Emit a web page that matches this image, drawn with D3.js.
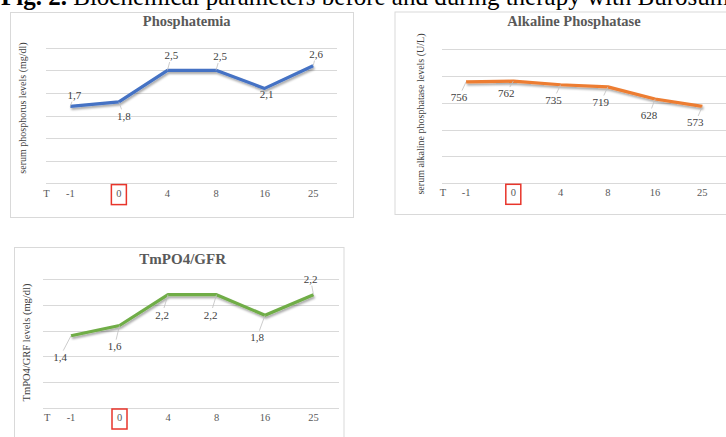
<!DOCTYPE html>
<html>
<head>
<meta charset="utf-8">
<script src="https://cdn.jsdelivr.net/npm/d3@7"></script>
<style>
  html, body { margin: 0; padding: 0; background: #fff; }
  svg { display: block; }
</style>
</head>
<body>
<svg id="chart" width="726" height="437"></svg>
<script>
// ---------- DATA ----------
const categories = ["-1", "0", "4", "8", "16", "25"];
const phosphatemiaValues = [1.7, 1.8, 2.5, 2.5, 2.1, 2.6];
const alkalineValues = [756, 762, 735, 719, 628, 573];
const tmpValues = [1.4, 1.6, 2.2, 2.2, 1.8, 2.2];
const phosphatemiaTicks = [0, 0.5, 1, 1.5, 2, 2.5, 3];
const alkalineTicks = [0, 200, 400, 600, 800, 1000];
const tmpTicks = [0, 0.5, 1, 1.5, 2, 2.5];
const highlightCategory = "0";
const headerBold = "Fig. 2.";
const headerText = " Biochemical parameters before and during therapy with Burosumab";

// ---------- LAYOUT / STYLE ----------
const FONT = "'Liberation Serif', 'Times New Roman', serif";
const panels = [
  {
    title: "Phosphatemia", yTitle: "serum phosphorus levels (mg/dl)",
    values: phosphatemiaValues, ticks: phosphatemiaTicks, domain: [0, 3],
    color: "#4472C4", fmt: v => d3.format(".1f")(v).replace(".", ","),
    box: [10.5, 12.5, 343, 205], titleX: 186.7, titleY: 26, titleSize: 14.5,
    xRange: [46, 337.5], yRange: [183.3, 47.7], gridX: [46, 337],
    yTitlePos: [22.7, 108], yTitleSize: 10,
    labelOff: [[4, -11.5], [5, 14], [4, -15], [4, -14], [2, 6], [3, -12]]
  },
  {
    title: "Alkaline Phosphatase", yTitle: "serum alkaline phosphatase levels (U/L)",
    values: alkalineValues, ticks: alkalineTicks, domain: [0, 1000],
    color: "#ED7D31", fmt: v => String(v),
    box: [395, 12, 340, 202.5], titleX: 574, titleY: 26, titleSize: 14.5,
    xRange: [442.4, 726], yRange: [183, 49.3], gridX: [442, 726],
    yTitlePos: [420, 114], yTitleSize: 10,
    labelOff: [[-7, 15], [-7, 12], [-7, 15], [-7, 15], [-6, 16], [-7, 16]]
  },
  {
    title: "TmPO4/GFR", yTitle: "TmPO4/GRF levels (mg/dl)",
    values: tmpValues, ticks: tmpTicks, domain: [0, 2.5],
    color: "#70AD47", fmt: v => d3.format(".1f")(v).replace(".", ","),
    box: [14.5, 247.5, 329.5, 200], titleX: 182.7, titleY: 264, titleSize: 15,
    xRange: [46.75, 337.75], yRange: [407.7, 279.3], gridX: [43, 339],
    yTitlePos: [26.7, 342.5], yTitleSize: 10.5,
    labelOff: [[-11, 21], [-5, 21], [-6, 20], [-6, 20], [-8, 22], [-3, -16]]
  }
];

const svg = d3.select("#chart");

const defs = svg.append("defs");
const f = defs.append("filter").attr("id", "shadow")
  .attr("x", "-10%").attr("y", "-30%").attr("width", "130%").attr("height", "180%");
f.append("feDropShadow").attr("dx", 1).attr("dy", 2).attr("stdDeviation", 1.2)
  .attr("flood-color", "#000").attr("flood-opacity", 0.35);

// Header (cut off at top, as in the reference)
const header = svg.append("text").attr("x", 1).attr("y", 4.5)
  .attr("font-family", FONT).attr("font-size", 25).attr("fill", "#000");
header.append("tspan").attr("font-weight", "bold").text(headerBold);
header.append("tspan").text(headerText);

panels.forEach(p => {
  const g = svg.append("g");
  const [bx, by, bw, bh] = p.box;
  g.append("rect").attr("x", bx).attr("y", by).attr("width", bw).attr("height", bh)
    .attr("fill", "#fff").attr("stroke", "#d9d9d9").attr("stroke-width", 1);

  const x = d3.scaleBand().domain(categories).range(p.xRange).paddingInner(0).paddingOuter(0);
  const y = d3.scaleLinear().domain(p.domain).range(p.yRange);
  const cx = c => x(c) + x.bandwidth() / 2;

  // gridlines
  g.append("g").selectAll("line").data(p.ticks).join("line")
    .attr("x1", p.gridX[0]).attr("x2", p.gridX[1])
    .attr("y1", d => Math.round(y(d)) + 0.5).attr("y2", d => Math.round(y(d)) + 0.5)
    .attr("stroke", "#d9d9d9").attr("stroke-width", 1);

  // x axis
  const axis = g.append("g").attr("transform", `translate(0,${y(0)})`)
    .call(d3.axisBottom(x).tickSize(0).tickPadding(6));
  axis.select(".domain").remove();
  axis.selectAll("text").attr("font-family", FONT).attr("font-size", 10.5).attr("fill", "#595959");

  // "T" label
  g.append("text").attr("x", p.xRange[0] + 0.5).attr("y", y(0) + 6).attr("dy", "0.71em")
    .attr("text-anchor", "middle").attr("font-family", FONT).attr("font-size", 10.5)
    .attr("fill", "#595959").text("T");

  // highlight box around "0"
  g.append("rect").attr("x", cx(highlightCategory) - 7.5).attr("y", y(0) + 1.3)
    .attr("width", 15).attr("height", 20)
    .attr("fill", "none").attr("stroke", "#e8352b").attr("stroke-width", 1.5);

  // title
  g.append("text").attr("x", p.titleX)
    .attr("y", p.titleY).attr("text-anchor", "middle")
    .attr("font-family", FONT).attr("font-weight", "bold").attr("font-size", p.titleSize)
    .attr("fill", "#595959").text(p.title);

  // y title
  g.append("text").attr("transform", `translate(${p.yTitlePos[0]},${p.yTitlePos[1]}) rotate(-90)`)
    .attr("text-anchor", "middle").attr("dy", "0.35em")
    .attr("font-family", FONT).attr("font-size", p.yTitleSize).attr("fill", "#404040")
    .text(p.yTitle);

  // line
  const line = d3.line().x((d, i) => cx(categories[i])).y(d => y(d));
  g.append("path").datum(p.values).attr("d", line)
    .attr("fill", "none").attr("stroke", p.color).attr("stroke-width", 3.2)
    .attr("stroke-linejoin", "round").attr("filter", "url(#shadow)");

  // leader lines + labels
  p.values.forEach((v, i) => {
    const px = cx(categories[i]), py = y(v);
    const [dx, dy] = p.labelOff[i];
    const lx = px + dx, ly = py + dy;
    const dist = Math.hypot(dx, dy);
    if (dist > 9) {
      const t = (dist - 7) / dist;
      g.append("line").attr("x1", px).attr("y1", py)
        .attr("x2", px + dx * t).attr("y2", py + dy * t)
        .attr("stroke", "#bfbfbf").attr("stroke-width", 0.8);
    }
    g.append("text").attr("x", lx).attr("y", ly).attr("dy", "0.35em")
      .attr("text-anchor", "middle").attr("font-family", FONT).attr("font-size", 11)
      .attr("fill", "#404040").text(p.fmt(v));
  });
});
</script>
</body>
</html>
